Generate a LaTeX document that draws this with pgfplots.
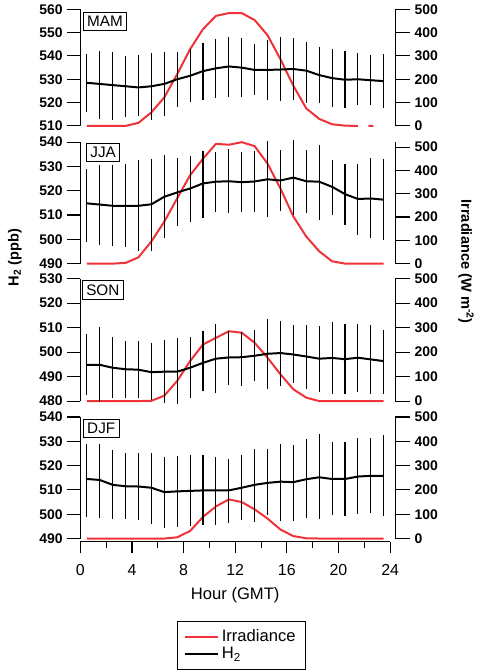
\documentclass[border=0pt]{standalone}
\usepackage{pgfplots}
\usepackage{pgfplotstable}
\pgfplotsset{compat=1.18}
\usepackage{fontspec}
\setmainfont{Liberation Sans}
\definecolor{irrred}{RGB}{238,50,56}

\pgfplotstableread{
h v ep em
0.5 528.5 12.5 12.5
1.5 528.0 14.2 15.0
2.5 527.5 14.3 14.9
3.5 527.0 13.0 13.3
4.5 526.5 14.0 12.1
5.5 527.0 14.2 14.3
6.5 528.0 13.5 13.6
7.5 530.0 11.8 11.7
8.5 531.5 11.5 11.1
9.5 533.5 12.0 12.5
10.5 534.7 12.5 12.9
11.5 535.5 12.7 13.1
12.5 535.0 12.5 12.5
13.5 534.0 11.2 10.8
14.5 534.0 13.0 12.7
15.5 534.2 13.8 13.7
16.5 534.4 13.3 13.4
17.5 533.7 12.1 13.7
18.5 531.8 12.0 12.0
19.5 530.5 12.7 12.5
20.5 529.8 12.4 12.3
21.5 530.0 11.2 11.0
22.5 529.6 10.7 10.6
23.5 529.2 11.6 11.7
}\mamH
\pgfplotstableread{
h v
0.5 0
1.5 0
2.5 0
3.5 0
4.5 13
5.5 58
6.5 122
7.5 222
8.5 329
9.5 415
10.5 472
11.5 484
12.5 484
13.5 454
14.5 389
15.5 286
16.5 172
17.5 75
18.5 30
19.5 7
20.5 1
21.5 0
22.4 nan
22.3 0
22.7 0
}\mamI

\pgfplotstableread{
h v ep em
0.5 514.8 14.3 16.1
1.5 514.3 16.2 16.5
2.5 513.8 16.7 16.4
3.5 513.8 17.1 17.1
4.5 513.8 18.7 18.5
5.5 514.4 18.8 19.1
6.5 517.5 17.1 17.0
7.5 519.3 14.2 14.0
8.5 520.9 13.4 13.6
9.5 523.0 13.2 14.1
10.5 523.7 12.2 12.3
11.5 523.9 13.1 13.2
12.5 523.5 12.4 12.1
13.5 523.8 12.4 12.4
14.5 524.7 15.7 15.4
15.5 524.2 12.4 12.4
16.5 525.4 15.6 15.6
17.5 523.9 12.7 12.9
18.5 523.7 15.3 15.7
19.5 521.6 10.9 11.5
20.5 518.6 12.5 12.6
21.5 516.6 14.5 15.0
22.5 516.8 16.7 16.3
23.5 516.3 16.6 16.5
}\jjaH
\pgfplotstableread{
h v
0.5 0
1.5 0
2.5 0
3.5 3
4.5 27
5.5 95
6.5 180
7.5 280
8.5 379
9.5 450
10.5 514
11.5 510
12.5 521
13.5 504
14.5 429
15.5 322
16.5 202
17.5 116
18.5 53
19.5 10
20.5 0
21.5 0
22.5 0
23.5 0
}\jjaI

\pgfplotstableread{
h v ep em
0.5 494.8 12.6 12.4
1.5 494.8 15.4 15.1
2.5 493.6 12.5 12.5
3.5 493.0 11.7 11.6
4.5 492.8 11.7 11.7
5.5 491.8 12.1 11.5
6.5 492.0 12.9 12.7
7.5 492.0 13.8 13.0
8.5 493.6 12.5 12.5
9.5 495.6 13.0 11.5
10.5 497.3 14.0 13.9
11.5 497.8 10.8 11.4
12.5 497.9 10.4 11.8
13.5 498.5 10.4 10.3
14.5 499.3 14.3 14.3
15.5 499.6 13.0 13.5
16.5 499.0 12.0 11.5
17.5 498.2 12.8 13.4
18.5 497.3 13.3 13.6
19.5 497.6 14.5 14.9
20.5 497.1 14.4 14.4
21.5 497.7 13.8 13.9
22.5 497.0 14.0 14.0
23.5 496.3 12.9 13.3
}\sonH
\pgfplotstableread{
h v
0.5 0
1.5 0
2.5 0
3.5 0
4.5 0
5.5 1
6.5 22
7.5 82
8.5 163
9.5 231
10.5 258
11.5 285
12.5 279
13.5 238
14.5 177
15.5 109
16.5 48
17.5 14
18.5 0
19.5 0
20.5 0
21.5 0
22.5 0
23.5 0
}\sonI

\pgfplotstableread{
h v ep em
0.5 514.5 14.3 15.6
1.5 514.1 15.0 15.5
2.5 512.1 14.3 14.1
3.5 511.5 13.5 13.5
4.5 511.4 13.9 13.6
5.5 510.9 14.4 14.8
6.5 509.1 14.3 14.6
7.5 509.4 14.6 14.6
8.5 509.6 14.7 14.6
9.5 509.8 14.7 14.3
10.5 509.8 13.6 14.3
11.5 509.8 13.0 13.4
12.5 510.9 13.6 13.4
13.5 512.1 14.7 15.3
14.5 512.9 13.9 13.4
15.5 513.4 15.7 16.1
16.5 513.2 15.4 15.9
17.5 514.4 16.5 15.8
18.5 515.2 17.7 17.3
19.5 514.5 15.1 15.0
20.5 514.5 15.3 15.4
21.5 515.5 15.8 15.6
22.5 515.8 15.5 15.4
23.5 515.8 16.6 16.7
}\djfH
\pgfplotstableread{
h v
0.5 0
1.5 0
2.5 0
3.5 0
4.5 0
5.5 0
6.5 0
7.5 5
8.5 31
9.5 89
10.5 132
11.5 161
12.5 150
13.5 120
14.5 82
15.5 37
16.5 10
17.5 1
18.5 0
19.5 0
20.5 0
21.5 0
22.5 0
23.5 0
}\djfI

\pgfplotsset{
  panelbase/.style={
    scale only axis, width=237.2pt, anchor=south west,
    xmin=0, xmax=24.4, hide x axis, clip=false,
    tick align=outside,
    axis line style={black, line width=0.8pt},
    ytick style={black, line width=0.8pt},
    /pgf/number format/assume math mode=true,
    yticklabel style={font=\bfseries\fontsize{10.5}{12}\selectfont},
  },
  panelL/.style={panelbase, axis y line*=left, major tick length=9.75pt},
  panelR/.style={panelbase, axis y line*=right, major tick length=11pt,
    ymin=0, ymax=500, ytick={0,100,...,500}},
  h2line/.style={black, line width=1.5pt, mark=none},
  irr/.style={irrred, line width=1.5pt, mark=none, unbounded coords=jump},
  ebars/.style={error bars/.cd, y dir=both, y explicit,
    error mark=none, error bar style={black, line width=0.85pt}},
}
\tikzset{
  seasonbox/.style={draw=black, line width=0.6pt, fill=white, anchor=north west,
    inner sep=3pt, font=\fontsize{11.5}{13}\selectfont},
}

\begin{document}
\begin{tikzpicture}
\path (0,0) rectangle (360.75pt,504pt);

% MAM
\begin{axis}[panelR, at={(60.5pt,411.2pt)}, height=87.75pt]
\addplot[irr] table[x=h,y=v] {\mamI};
\end{axis}
\begin{axis}[panelL, at={(60.5pt,411.2pt)}, height=87.75pt,
  ymin=510, ymax=560, ytick={510,520,...,560}]
\addplot[h2line, ebars] table[x=h,y=v,y error plus=ep,y error minus=em] {\mamH};
\node[seasonbox] at (axis description cs:0.008,0.98) {MAM};
\end{axis}

% JJA
\begin{axis}[panelR, at={(60.5pt,307.5pt)}, height=91.5pt, ymax=521.4]
\addplot[irr] table[x=h,y=v] {\jjaI};
\end{axis}
\begin{axis}[panelL, at={(60.5pt,307.5pt)}, height=91.5pt,
  ymin=490, ymax=540, ytick={490,500,...,540}]
\addplot[h2line, ebars] table[x=h,y=v,y error plus=ep,y error minus=em] {\jjaH};
\node[seasonbox] at (axis description cs:0.018,0.995) {JJA};
\end{axis}

% SON
\begin{axis}[panelR, at={(60.5pt,204pt)}, height=92.25pt]
\addplot[irr] table[x=h,y=v] {\sonI};
\end{axis}
\begin{axis}[panelL, at={(60.5pt,204pt)}, height=92.25pt,
  ymin=480, ymax=530, ytick={480,490,...,530}]
\addplot[h2line, ebars] table[x=h,y=v,y error plus=ep,y error minus=em] {\sonH};
\node[seasonbox] at (axis description cs:0.005,0.985) {SON};
\end{axis}

% DJF
\begin{axis}[panelR, at={(60.5pt,100.5pt)}, height=91.5pt]
\addplot[irr] table[x=h,y=v] {\djfI};
\end{axis}
\begin{axis}[panelL, at={(60.5pt,100.5pt)}, height=91.5pt,
  ymin=490, ymax=540, ytick={490,500,...,540}]
\addplot[h2line, ebars] table[x=h,y=v,y error plus=ep,y error minus=em] {\djfH};
\node[seasonbox] at (axis description cs:0.008,0.985) {DJF};
\end{axis}

% bottom axis with legend
\begin{axis}[scale only axis, width=233.25pt, height=20pt,
  at={(60.5pt,98.25pt)}, anchor=south west,
  xmin=0, xmax=24, ymin=0, ymax=1,
  hide y axis, axis x line*=bottom,
  xtick={0,4,...,24}, minor xtick={2,6,...,22},
  tick align=outside, major tick length=9pt, minor tick length=5pt,
  axis line style={black, line width=0.8pt},
  xtick style={black, line width=0.8pt},
  /pgf/number format/assume math mode=true,
  xticklabel style={font=\fontsize{12}{14}\selectfont, yshift=-4.5pt},
  xlabel={Hour (GMT)},
  xlabel style={font=\fontsize{12.5}{14}\selectfont, yshift=-2pt},
  legend style={at={(0.519,-3.0)}, anchor=north, draw=black, line width=0.6pt,
    font=\fontsize{12.5}{14}\selectfont, cells={anchor=west},
    inner xsep=5pt, inner ysep=4pt, row sep=-1pt},
  legend image code/.code={\draw[#1] (0pt,0pt) -- (25pt,0pt);},
]
\addlegendimage{irrred, line width=1.5pt}
\addlegendentry{Irradiance}
\addlegendimage{black, line width=1.5pt}
\addlegendentry{H\textsubscript{2}}
\end{axis}

\node[rotate=90, font=\bfseries\fontsize{11}{13}\selectfont] at (11.25pt,312pt) {H\textsubscript{2} (ppb)};
\node[rotate=-90, font=\bfseries\fontsize{11}{13}\selectfont] at (351pt,309pt) {Irradiance (W m\textsuperscript{-2})};
\end{tikzpicture}
\end{document}
